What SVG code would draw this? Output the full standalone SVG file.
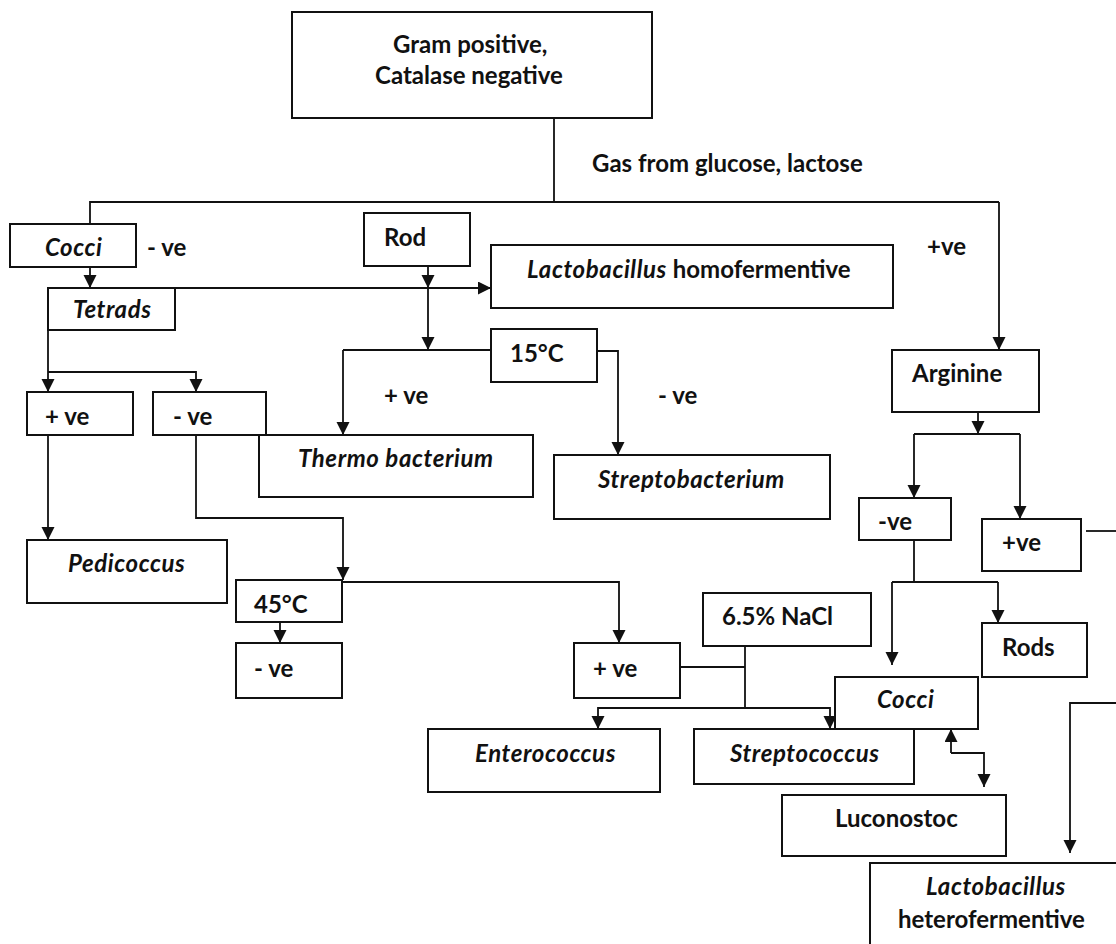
<svg xmlns="http://www.w3.org/2000/svg" width="1116" height="944" viewBox="0 0 1116 944">
<defs>
<marker id="ah" markerUnits="userSpaceOnUse" markerWidth="14" markerHeight="14" refX="13" refY="6.5" orient="auto">
<path d="M0,0 L13,6.5 L0,13 z" fill="#111"/>
</marker>
<style>
rect{fill:#fff;stroke:#111;stroke-width:2}
.c path,.c line{fill:none;stroke:#111;stroke-width:1.8}
.a{marker-end:url(#ah)}
text{font-family:Lato,"Open Sans","Liberation Sans",sans-serif;font-weight:bold;font-size:24px;fill:#111}
.i{font-style:italic;letter-spacing:0.6px}
</style>
</defs>
<rect width="1116" height="944" style="fill:#fff;stroke:none"/>
<g class="c" id="connectors">
<path d="M554,118 V202"/>
<path d="M90,224 V202 H999"/>
<path class="a" d="M999,202 V350"/>
<path class="a" d="M90,267 V288"/>
<path class="a" d="M175,288 H491"/>
<path class="a" d="M428,266 V288"/>
<path class="a" d="M428,288 V350"/>
<path d="M343,350 H491"/>
<path class="a" d="M343,350 V435"/>
<path class="a" d="M597,351 H618 V455"/>
<path class="a" d="M48,330 V392"/>
<path class="a" d="M48,372 H196 V392"/>
<path class="a" d="M48,435 V540"/>
<path class="a" d="M196,435 V518 H343 V580"/>
<path class="a" d="M343,582 H619 V643"/>
<path class="a" d="M280,622 V643"/>
<path d="M680,667 H745"/>
<path d="M745,646 V708"/>
<path class="a" d="M745,708 H598 V729"/>
<path class="a" d="M745,708 H830 V729"/>
<path class="a" d="M978,412 V434"/>
<path d="M914,434 H1020"/>
<path class="a" d="M914,434 V498"/>
<path class="a" d="M1020,434 V519"/>
<path d="M914,540 V582"/>
<path d="M892,582 H998"/>
<path class="a" d="M892,582 V665"/>
<path class="a" d="M998,582 V623"/>
<path d="M1086,531 H1116"/>
<path class="a" d="M1116,703 H1070 V853"/>
<path class="a" d="M951,753 V729"/>
<path class="a" d="M951,753 H984 V787"/>
</g>
<g id="n-top"><rect x="292" y="12" width="360" height="106"/><text x="393" y="53">Gram positive,</text><text x="375" y="84">Catalase negative</text></g>
<g id="l-gas"><text x="592" y="172">Gas from glucose, lactose</text></g>
<g id="n-cocci"><rect x="10" y="224" width="126" height="43"/><text class="i" x="45" y="256">Cocci</text></g>
<g id="l-cocci-neg"><text x="147" y="256">- ve</text></g>
<g id="n-rod"><rect x="364" y="213" width="106" height="53"/><text x="384" y="246">Rod</text></g>
<g id="n-lacto-homo"><rect x="491" y="245" width="402" height="63"/><text x="527" y="278"><tspan class="i">Lactobacillus</tspan> homofermentive</text></g>
<g id="n-tetrads"><rect x="48" y="288" width="127" height="42"/><text class="i" x="73" y="318">Tetrads</text></g>
<g id="n-15c"><rect x="491" y="329" width="106" height="53"/><text x="510" y="362">15°C</text></g>
<g id="l-arg-pos"><text x="927" y="255">+ve</text></g>
<g id="l-15-pos"><text x="384" y="404">+ ve</text></g>
<g id="l-15-neg"><text x="658" y="404">- ve</text></g>
<g id="n-arginine"><rect x="892" y="350" width="147" height="62"/><text x="912" y="382">Arginine</text></g>
<g id="n-tet-pos"><rect x="27" y="392" width="106" height="43"/><text x="45" y="425">+ ve</text></g>
<g id="n-tet-neg"><rect x="153" y="392" width="113" height="43"/><text x="173" y="425">- ve</text></g>
<g id="n-thermo"><rect x="259" y="435" width="274" height="62"/><text class="i" x="298" y="467">Thermo bacterium</text></g>
<g id="n-streptobact"><rect x="554" y="455" width="276" height="64"/><text class="i" x="598" y="488">Streptobacterium</text></g>
<g id="n-arg-neg"><rect x="859" y="498" width="92" height="42"/><text x="878" y="530">-ve</text></g>
<g id="n-arg-pos"><rect x="982" y="519" width="99" height="52"/><text x="1002" y="551">+ve</text></g>
<g id="n-pedicoccus"><rect x="27" y="540" width="200" height="63"/><text class="i" x="68" y="572">Pedicoccus</text></g>
<g id="n-45c"><rect x="236" y="580" width="106" height="42"/><text x="254" y="613">45°C</text></g>
<g id="n-nacl"><rect x="703" y="593" width="168" height="53"/><text x="722" y="625">6.5% NaCl</text></g>
<g id="n-rods"><rect x="982" y="623" width="105" height="54"/><text x="1002" y="656">Rods</text></g>
<g id="n-45-neg"><rect x="236" y="643" width="106" height="55"/><text x="254" y="677">- ve</text></g>
<g id="n-nacl-pos"><rect x="574" y="643" width="106" height="55"/><text x="593" y="677">+ ve</text></g>
<g id="n-cocci2"><rect x="835" y="677" width="143" height="52"/><text class="i" x="877" y="708">Cocci</text></g>
<g id="n-entero"><rect x="428" y="729" width="232" height="63"/><text class="i" x="475" y="762">Enterococcus</text></g>
<g id="n-strepto"><rect x="694" y="729" width="220" height="55"/><text class="i" x="730" y="762">Streptococcus</text></g>
<g id="n-lucono"><rect x="782" y="795" width="224" height="61"/><text x="835" y="827">Luconostoc</text></g>
<g id="n-lacto-hetero"><rect x="870" y="863" width="270" height="100"/><text class="i" x="926" y="895">Lactobacillus</text><text x="898" y="928">heterofermentive</text></g>
</svg>
